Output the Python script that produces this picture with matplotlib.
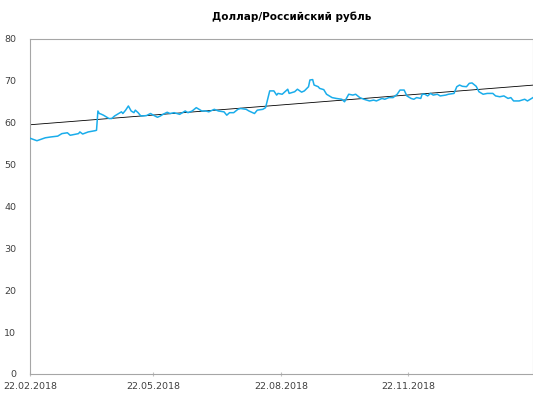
import numpy as np
import pandas as pd
import matplotlib
matplotlib.use("Agg")
import matplotlib.pyplot as plt
import matplotlib.dates as mdates

title = "Доллар/Российский рубль"

dates = [
    "22.02.2018", "27.02.2018", "05.03.2018", "09.03.2018", "14.03.2018", "17.03.2018",
    "21.03.2018", "23.03.2018", "29.03.2018", "30.03.2018", "01.04.2018", "05.04.2018",
    "10.04.2018", "11.04.2018", "12.04.2018", "13.04.2018", "14.04.2018", "16.04.2018",
    "20.04.2018", "22.04.2018", "24.04.2018", "27.04.2018", "29.04.2018", "30.04.2018",
    "02.05.2018", "04.05.2018", "06.05.2018", "08.05.2018", "09.05.2018", "11.05.2018",
    "13.05.2018", "17.05.2018", "20.05.2018", "22.05.2018", "25.05.2018", "27.05.2018",
    "29.05.2018", "01.06.2018", "03.06.2018", "06.06.2018", "10.06.2018", "12.06.2018",
    "14.06.2018", "16.06.2018", "19.06.2018", "22.06.2018", "24.06.2018", "26.06.2018",
    "29.06.2018", "01.07.2018", "05.07.2018", "08.07.2018", "12.07.2018", "14.07.2018",
    "16.07.2018", "19.07.2018", "22.07.2018", "24.07.2018", "28.07.2018", "30.07.2018",
    "03.08.2018", "05.08.2018", "09.08.2018", "11.08.2018", "14.08.2018", "17.08.2018",
    "19.08.2018", "20.08.2018", "23.08.2018", "27.08.2018", "28.08.2018", "01.09.2018",
    "03.09.2018", "06.09.2018", "08.09.2018", "11.09.2018", "12.09.2018", "14.09.2018",
    "15.09.2018", "18.09.2018", "19.09.2018", "22.09.2018", "24.09.2018", "28.09.2018",
    "01.10.2018", "05.10.2018", "07.10.2018", "10.10.2018", "13.10.2018", "15.10.2018",
    "18.10.2018", "21.10.2018", "23.10.2018", "25.10.2018", "28.10.2018", "30.10.2018",
    "03.11.2018", "05.11.2018", "08.11.2018", "11.11.2018", "14.11.2018", "16.11.2018",
    "19.11.2018", "21.11.2018", "24.11.2018", "26.11.2018", "28.11.2018", "01.12.2018",
    "02.12.2018", "04.12.2018", "06.12.2018", "08.12.2018", "10.12.2018", "13.12.2018",
    "15.12.2018", "19.12.2018", "21.12.2018", "25.12.2018", "27.12.2018", "29.12.2018",
    "31.12.2018", "03.01.2019", "05.01.2019", "07.01.2019", "10.01.2019", "12.01.2019",
    "15.01.2019", "18.01.2019", "22.01.2019", "24.01.2019", "27.01.2019", "30.01.2019",
    "02.02.2019", "04.02.2019", "06.02.2019", "10.02.2019", "14.02.2019", "16.02.2019",
    "19.02.2019", "20.02.2019",
]

rate = [
    56.3, 55.7, 56.4, 56.6, 56.8, 57.4,
    57.6, 57.0, 57.4, 57.8, 57.3, 57.8,
    58.1, 58.2, 62.8, 62.2, 62.1, 61.8,
    61.0, 61.0, 61.6, 62.2, 62.6, 62.2,
    63.0, 64.0, 62.8, 62.4, 63.0, 62.4,
    61.6, 61.7, 62.2, 61.8, 61.3, 61.6,
    62.0, 62.5, 62.2, 62.4, 62.0, 62.4,
    62.8, 62.4, 62.8, 63.6, 63.2, 62.8,
    62.8, 62.6, 63.2, 62.8, 62.6, 61.8,
    62.4, 62.4, 63.2, 63.4, 63.2, 62.8,
    62.2, 63.0, 63.2, 63.6, 67.6, 67.6,
    66.6, 67.0, 66.8, 68.0, 67.0, 67.4,
    68.0, 67.3, 67.6, 68.6, 70.2, 70.3,
    69.0, 68.6, 68.2, 67.9, 66.8, 66.0,
    65.8, 65.6, 65.0, 66.8, 66.6, 66.8,
    66.0, 65.6, 65.4, 65.2, 65.4, 65.2,
    65.8, 65.6, 66.0, 66.0, 66.8, 67.8,
    67.8, 66.4, 65.8, 65.6, 66.0, 65.8,
    66.8, 66.8, 66.4, 67.0, 66.6, 66.8,
    66.4, 66.6, 66.8, 67.0, 68.6, 69.0,
    68.7, 68.6, 69.4, 69.5, 68.7, 67.4,
    66.8, 67.0, 67.0, 66.4, 66.2, 66.4,
    65.8, 66.0, 65.2, 65.2, 65.6, 65.2,
    65.8, 66.0,
]

tick_dates = ["22.02.2018", "22.05.2018", "22.08.2018", "22.11.2018"]

x = pd.to_datetime(dates, format="%d.%m.%Y")
y = np.array(rate)

# linear trend, like the Excel trendline
days = (x - x[0]).days.values
k, b = np.polyfit(days, y, 1)
trend = k * days + b

fig = plt.figure(figsize=(5.33, 3.94), dpi=100)
ax = fig.add_axes([0.0563, 0.0508, 0.9437, 0.8503])

ax.plot(x, y, color="#1AADEB", lw=1.1, zorder=3)
ax.plot(x, trend, color="black", lw=0.6, zorder=2)

ax.set_ylim(0, 80)
ax.set_yticks(range(0, 81, 10))
ax.set_xlim(x[0], pd.Timestamp("2019-02-20"))
ticks = pd.to_datetime(tick_dates, format="%d.%m.%Y")
ax.set_xticks(ticks)
ax.xaxis.set_major_formatter(mdates.DateFormatter("%d.%m.%Y"))

for s in ax.spines.values():
    s.set_color("#A6A6A6")
    s.set_linewidth(0.8)

ax.tick_params(axis="y", length=0, pad=10, labelsize=6.8, labelcolor="#404040")
ax.tick_params(axis="x", length=3, direction="inout", color="#C0C0C0",
               pad=4, labelsize=6.8, labelcolor="#404040")

fig.text(0.548, 0.958, title, ha="center", va="center", fontsize=7.5,
         fontweight="bold", color="black")

fig.savefig("out.png", dpi=100)
